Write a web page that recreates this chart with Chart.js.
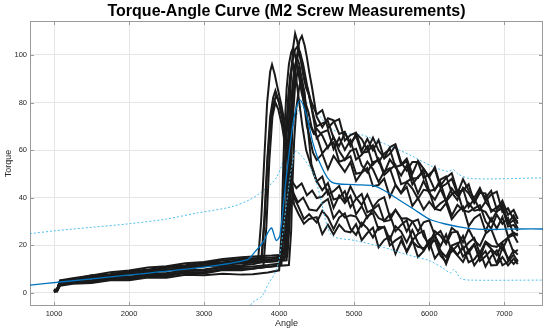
<!DOCTYPE html>
<html lang="en">
<head>
  <meta charset="UTF-8" />
  <title>Torque-Angle Curve</title>
  <script src="https://cdn.jsdelivr.net/npm/chart.js"></script>
  <style>
    html, body { margin: 0; padding: 0; background: #fff; }
    canvas { display: block; }
  </style>
</head>
<body>
  <canvas id="chartTorque" width="550" height="333"></canvas>

  <script>
    // axis ticks
    const X_TICKS = [1000, 2000, 3000, 4000, 5000, 6000, 7000];
    const Y_TICKS = [0, 20, 40, 60, 80, 100];

    // measured curves: E1-E4 peak early, M1-M9 peak later
    const CURVE_NAMES = ['E1', 'E2', 'E3', 'E4', 'M1', 'M2', 'M3', 'M4', 'M5', 'M6', 'M7', 'M8', 'M9'];

    // slow run-in before the torque rise
    const LOW_X = [1000, 1040, 1080, 1250, 1500, 1750, 2000, 2250, 2500, 2750, 3000, 3250, 3500];
    const LOW_Y = [
      [0.5, 1.0, 4.2, 4.8, 6.3, 7.0, 7.9, 8.7, 9.6, 10.4, 11.3, 12.1, 12.8],
      [1.0, 0.6, 3.6, 4.6, 5.0, 6.5, 6.7, 7.8, 8.3, 9.3, 9.8, 10.9, 11.5],
      [0.8, 1.4, 4.8, 5.3, 7.0, 7.1, 8.8, 8.9, 10.5, 10.6, 12.3, 12.2, 13.8],
      [0.3, 0.9, 3.1, 4.1, 4.4, 5.5, 5.7, 7.1, 6.9, 8.3, 8.1, 9.5, 9.4],
      [0.6, 1.2, 5.2, 6.1, 7.2, 8.6, 9.3, 10.6, 11.1, 12.4, 12.9, 14.2, 14.9],
      [1.2, 0.8, 4.0, 4.4, 6.1, 6.6, 7.7, 8.3, 9.4, 10.0, 11.2, 11.6, 12.4],
      [0.4, 1.1, 3.4, 4.3, 4.6, 5.9, 6.1, 7.3, 7.4, 8.5, 8.7, 9.8, 10.1],
      [0.9, 1.5, 4.6, 5.2, 6.8, 7.5, 8.7, 9.4, 10.5, 11.1, 12.3, 12.8, 13.6],
      [0.7, 0.5, 2.9, 3.8, 4.1, 5.2, 5.2, 6.4, 6.3, 7.5, 7.3, 8.0, 7.6],
      [1.1, 1.3, 4.4, 4.8, 6.5, 6.4, 8.2, 8.0, 9.8, 9.6, 11.4, 11.3, 12.9],
      [0.5, 0.7, 3.8, 4.5, 5.2, 6.3, 6.4, 8.0, 7.9, 9.5, 9.3, 10.9, 10.8],
      [1.4, 1.0, 5.0, 5.5, 7.3, 7.8, 9.1, 9.7, 10.9, 11.5, 12.7, 13.5, 14.3],
      [0.2, 0.8, 3.3, 4.2, 4.8, 5.7, 6.0, 7.4, 7.2, 8.7, 8.5, 10.2, 10.0]
    ];

    // rise and peak, own angles per curve
    const RISE_X = [
      [3650, 3720, 3760, 3800, 3840, 3880, 3905, 3940, 3980, 4030, 4080, 4130, 4170, 4230, 4300, 4370, 4440],
      [3650, 3760, 3800, 3840, 3880, 3920, 3950, 3990, 4040, 4090, 4140, 4190, 4250, 4320, 4400],
      [3650, 3770, 3810, 3850, 3890, 3930, 3960, 4000, 4050, 4100, 4150, 4200, 4260, 4330, 4400],
      [3650, 3790, 3830, 3870, 3910, 3950, 3990, 4040, 4090, 4150, 4200, 4260, 4330, 4400],
      [3650, 3900, 4060, 4090, 4110, 4130, 4160, 4190, 4213, 4240, 4270, 4300, 4340, 4380, 4420, 4460],
      [3650, 3900, 4100, 4130, 4150, 4170, 4200, 4240, 4270, 4303, 4340, 4370, 4400, 4440, 4470],
      [3650, 3900, 4030, 4060, 4080, 4100, 4130, 4170, 4210, 4253, 4290, 4320, 4360, 4400, 4440, 4470],
      [3650, 3900, 4090, 4120, 4140, 4160, 4190, 4220, 4250, 4280, 4320, 4350, 4390, 4430, 4465],
      [3650, 3850, 4000, 4030, 4050, 4070, 4100, 4130, 4160, 4187, 4220, 4260, 4300, 4340, 4380, 4420, 4460],
      [3650, 3900, 4070, 4100, 4120, 4140, 4170, 4200, 4236, 4270, 4310, 4350, 4390, 4430, 4465],
      [3650, 3850, 4020, 4050, 4070, 4090, 4120, 4150, 4187, 4220, 4260, 4310, 4360, 4420, 4460],
      [3650, 3900, 4110, 4140, 4160, 4180, 4210, 4253, 4290, 4330, 4370, 4410, 4450],
      [3650, 3900, 4130, 4160, 4180, 4200, 4230, 4270, 4300, 4340, 4380, 4430]
    ];
    const RISE_Y = [
      [13.2, 14, 30, 55, 80, 93, 96, 92, 86, 79, 70, 58, 47, 44, 46, 41, 43],
      [12.0, 12.8, 30, 55, 74, 82, 85, 81, 74, 63, 52, 42, 38, 40, 35],
      [14.0, 14.6, 32, 58, 73, 80, 83, 80, 72, 60, 48, 40, 36, 31, 33],
      [10.1, 10.8, 28, 56, 74, 80, 77, 70, 60, 47, 37, 33, 29, 31],
      [15.2, 15.6, 16.0, 30, 52, 72, 92, 104, 109, 106, 100, 96, 89, 86, 81, 78],
      [12.6, 13.0, 13.6, 28, 50, 70, 88, 100, 106, 108, 104, 99, 93, 86, 80],
      [10.3, 11.0, 11.8, 26, 48, 66, 84, 96, 102, 104, 99, 92, 86, 83, 77, 73],
      [13.8, 14.2, 14.8, 30, 52, 70, 86, 95, 100, 101, 96, 91, 84, 78, 72],
      [7.8, 8.5, 9.4, 24, 48, 68, 86, 96, 101, 103, 99, 92, 84, 79, 72, 70, 67],
      [13.1, 13.5, 14.0, 28, 50, 68, 84, 94, 99, 96, 88, 80, 76, 70, 67],
      [11.0, 11.6, 12.3, 26, 48, 66, 82, 92, 96, 92, 82, 70, 60, 54, 50],
      [14.5, 14.8, 15.3, 30, 54, 72, 86, 94.6, 90, 80, 70, 65, 59],
      [10.2, 11.0, 11.6, 26, 48, 64, 78, 87, 90, 84, 70, 54]
    ];

    // jagged decay after the peak
    const TAIL_X = [4500, 4575, 4650, 4725, 4800, 4875, 4950, 5025, 5100, 5175, 5250, 5325, 5400, 5475,
      5550, 5625, 5700, 5775, 5850, 5925, 6000, 6075, 6150, 6225, 6300, 6375, 6450, 6525, 6600, 6675,
      6750, 6825, 6900, 6975, 7050, 7125, 7180];
    const TAIL_Y = [
      [39.8, 40.4, 43.3, 35.7, 40.9, 37.7, 40.7, 33, 36.4, 31.5, 34.9, 31.4, 30.3, 32.9, 25.8, 28.5, 30.5, 22, 24.8,
        26, 18.3, 23.9, 19.6, 24.5, 17.3, 19.9, 23.9, 16.8, 20.2, 14.6, 21, 18.5, 15.8, 20.8, 13.7, 17.8, 16],
      [34.5, 37.7, 39.4, 31.3, 34.5, 31.6, 32.6, 32, 28, 32.3, 33.5, 26.5, 27.8, 22.3, 28, 25.7, 21.1, 26.3, 21,
        17.8, 22.3, 24.1, 17.6, 15, 19.8, 20.9, 15.2, 17.8, 20.5, 13.3, 15.3, 18, 12.3, 18.8, 14.7, 12.1, 14],
      [29.5, 34.4, 31.6, 26.7, 31.6, 33.4, 26.9, 24.3, 29.4, 27.1, 23.2, 27.6, 27.5, 19.9, 22, 23.6, 17, 21.5, 19.3,
        18.7, 20.3, 22.1, 15.6, 13, 19.3, 15.9, 19.2, 12.8, 14, 17.3, 11, 15.2, 17.8, 11.5, 13, 16, 13],
      [31.8, 24.6, 28.6, 24.5, 28.6, 25.9, 25.4, 28.8, 22.1, 25.1, 27.4, 19.1, 22.2, 23.7, 16.3, 21.8, 17.5, 22.3, 15,
        17.5, 21.5, 14.4, 17.6, 12, 18.3, 15.7, 12.9, 17.8, 11.5, 14.8, 17.5, 11.5, 11.6, 15, 11.5, 14.3, 12],
      [75, 76.8, 69.3, 71.9, 73, 64, 66.3, 67.3, 59.7, 64.7, 59.9, 64.2, 56.4, 58.4, 61.8, 53.9, 56.4, 50, 55.5,
        52.1, 48.6, 52.9, 45, 48.4, 50.3, 42.6, 43, 45.6, 38, 43.1, 39.9, 42.8, 35.1, 38.7, 32.8, 34.8, 31],
      [74, 69.6, 73.4, 72.5, 66.8, 67.7, 61.7, 67, 64.6, 60.1, 65.2, 59.9, 56.7, 61.2, 62.5, 55, 51.3, 55, 55,
        48.3, 49.8, 51.9, 44.3, 45.7, 47.9, 41.7, 47.7, 43, 39.8, 44, 38.5, 41.3, 42.5, 34, 35.5, 30.8, 30],
      [70, 71.2, 72.2, 65.1, 61.7, 67.3, 63.1, 65.8, 58.8, 59.3, 62, 55, 58.5, 60.5, 52.8, 53.7, 55.3, 48, 48.2,
        52.1, 48.5, 43.1, 47.6, 48.9, 42.1, 39, 44.2, 41.8, 37.8, 42, 41.8, 34, 36, 37.3, 29.3, 32.5, 29],
      [65, 67.5, 68.4, 60.4, 65.2, 60.1, 64.1, 56, 58, 61.5, 53.8, 56.5, 50.3, 56, 52.8, 49.3, 53.5, 45.5, 48.8,
        50.7, 42.8, 43.4, 46.3, 38.7, 43.9, 40.7, 43.7, 36, 39.5, 34.8, 38.3, 35, 34, 36.8, 28.8, 30.5, 27],
      [69, 66.1, 60.9, 65.5, 59.6, 55.9, 59.7, 60.5, 53.6, 50.6, 54.9, 55.6, 49.5, 51.7, 53.8, 45.7, 46.6, 48.3, 41.7,
        47, 42, 39.1, 43.6, 38.4, 41.4, 42.9, 34.7, 37.8, 34.5, 35, 34, 30, 34.3, 35.5, 27.8, 28.5, 26],
      [66, 58.6, 61.6, 63.2, 55.1, 55.9, 57.4, 50, 50.6, 55.1, 51.9, 46.6, 51, 52.4, 45.5, 42, 46.6, 43.8, 39.5,
        43.3, 42.8, 35.3, 37.6, 39.2, 32.4, 36.9, 34.7, 34, 35.5, 36.8, 30, 27, 32.8, 29, 31.5, 24.1, 25],
      [46.8, 48.9, 41.3, 42.7, 44.9, 38.7, 44.7, 40, 36.9, 41.3, 35.9, 38.9, 40.2, 31.9, 34.8, 31.2, 31.3, 30, 25.7,
        29.6, 30.5, 24.1, 25.9, 21, 27.3, 25.4, 21.2, 26.8, 22.1, 19.7, 24.8, 26.8, 20.7, 18.3, 23.2, 24.3, 21],
      [55.8, 58.4, 52, 57.6, 54.2, 50.8, 54.9, 47, 50.5, 52.5, 44.8, 45.3, 48, 40.3, 45.3, 41.8, 44.5, 36.5, 39.8,
        35, 38.3, 35.3, 34.6, 37.7, 30.9, 33.9, 36.2, 28, 31.3, 33, 25.8, 31.3, 27, 31.8, 23.7, 25.3, 24],
      [47, 43.1, 46.1, 39.2, 39.9, 42.7, 35.9, 39.5, 41.5, 33.8, 35, 37, 30, 30.5, 34.8, 31.3, 25.7, 29.8, 30.8,
        23.7, 20.3, 25.9, 23.9, 20.5, 25.3, 25.7, 18.4, 21, 23, 16.6, 21.5, 19.7, 19.3, 21.3, 23.2, 16.8, 18]
    ];

    // mean curve and its bounds
    const MEAN_X = [680, 1120, 2013, 2900, 3570, 3680, 3790, 3857, 3900, 3960, 4010, 4100, 4200, 4280, 4370,
      4450, 4550, 4700, 5000, 5250, 5400, 5600, 5800, 6000, 6200, 6500, 6800, 7200, 7516];
    const MEAN_Y = [3.2, 4.6, 7.5, 10.4, 13.8, 17.3, 21.5, 25.7, 27.2, 22, 24, 50, 74, 81, 74,
      63, 54, 46.5, 45.5, 45, 43, 39, 35, 31, 29, 27.2, 26.6, 26.8, 26.8];

    const UPPER_X = [680, 1000, 1500, 2000, 2500, 2900, 3350, 3600, 3750, 3900, 3975, 4060, 4150, 4250, 4350,
      4450, 4550, 4650, 4750, 4850, 5100, 5300, 5600, 5800, 6050, 6250, 6320, 6380, 6550, 7516];
    const UPPER_Y = [24.8, 26, 27.5, 29, 31, 33.5, 36, 39, 42, 46, 49, 56, 66, 76, 80,
      78, 74, 70, 68, 67, 66.4, 64, 60, 57, 53, 51, 51.8, 50, 48, 48.3];

    const LOWER_X = [3560, 3650, 3770, 3860, 3940, 4000, 4100, 4213, 4303, 4453, 4550, 4640, 4720,
      5000, 5400, 5700, 6000, 6200, 6280, 6330, 6420, 6550, 7516];
    const LOWER_Y = [-8, -4, -1.5, 4, 8, 14, 38, 59.4, 57.3, 50.4, 40, 28, 23.6,
      22, 19, 16, 13.5, 10, 8.3, 9.8, 6, 5.3, 5.3];

    const FONT = "'Liberation Sans', Arial, Helvetica, sans-serif";
    const AXIS_COLOR = '#9a9a9a';
    const TEXT_COLOR = '#262626';
    const TITLE = 'Torque-Angle Curve (M2 Screw Measurements)';

    const zip = (xs, ys) => xs.map((x, i) => ({ x: x, y: ys[i] }));

    const curveSets = CURVE_NAMES.map((name, i) => ({
      label: name,
      data: zip(LOW_X, LOW_Y[i]).concat(zip(RISE_X[i], RISE_Y[i]), zip(TAIL_X, TAIL_Y[i])),
      borderColor: '#1a1a1a',
      borderWidth: 2,
      pointRadius: 0,
      tension: 0,
      order: 1
    }));

    // box round the plot with inward ticks, title centred over the plot area
    const boxPlugin = {
      id: 'box',
      beforeDatasetsDraw(chart) {
        const { ctx, chartArea: a, scales } = chart;
        ctx.save();
        ctx.strokeStyle = AXIS_COLOR;
        ctx.lineWidth = 1;
        ctx.strokeRect(a.left + 0.5, a.top + 0.5, a.right - a.left - 1, a.bottom - a.top - 1);
        ctx.beginPath();
        X_TICKS.forEach(v => {
          const x = Math.round(scales.x.getPixelForValue(v)) + 0.5;
          ctx.moveTo(x, a.bottom); ctx.lineTo(x, a.bottom - 4);
          ctx.moveTo(x, a.top); ctx.lineTo(x, a.top + 4);
        });
        Y_TICKS.forEach(v => {
          const y = Math.round(scales.y.getPixelForValue(v)) + 0.5;
          ctx.moveTo(a.left, y); ctx.lineTo(a.left + 4, y);
          ctx.moveTo(a.right, y); ctx.lineTo(a.right - 4, y);
        });
        ctx.stroke();
        ctx.restore();
      },
      afterDraw(chart) {
        const { ctx, chartArea: a } = chart;
        ctx.save();
        ctx.fillStyle = '#000';
        ctx.font = 'bold 16px ' + FONT;
        ctx.textAlign = 'center';
        ctx.textBaseline = 'middle';
        ctx.fillText(TITLE, (a.left + a.right) / 2, 12);
        ctx.restore();
      }
    };

    new Chart(document.getElementById('chartTorque'), {
      type: 'line',
      data: {
        datasets: [
          {
            label: 'Mean',
            data: zip(MEAN_X, MEAN_Y),
            borderColor: '#0072BD',
            borderWidth: 1.3,
            pointRadius: 0,
            tension: 0.3,
            order: 0
          },
          {
            label: 'Lower',
            data: zip(LOWER_X, LOWER_Y),
            borderColor: '#4DBEEE',
            borderWidth: 1,
            borderDash: [2, 2],
            pointRadius: 0,
            tension: 0.3,
            order: 0
          },
          ...curveSets,
          {
            label: 'Upper',
            data: zip(UPPER_X, UPPER_Y),
            borderColor: '#4DBEEE',
            borderWidth: 1,
            borderDash: [2, 2],
            pointRadius: 0,
            tension: 0.3,
            order: 2
          }
        ]
      },
      options: {
        responsive: false,
        animation: false,
        layout: { padding: { left: 0, right: 7, top: 21, bottom: 0 } },
        plugins: {
          legend: { display: false },
          tooltip: { enabled: false },
          title: { display: false }
        },
        scales: {
          x: {
            type: 'linear',
            min: 680,
            max: 7516,
            grid: { color: '#e6e6e6', drawTicks: false },
            border: { display: false },
            ticks: {
              color: TEXT_COLOR,
              font: { family: FONT, size: 7.5 },
              padding: 3,
              maxRotation: 0,
              callback: v => String(v)
            },
            afterBuildTicks: s => { s.ticks = X_TICKS.map(v => ({ value: v })); },
            afterFit: s => { s.height = 27; },
            title: {
              display: true,
              text: 'Angle',
              color: TEXT_COLOR,
              font: { family: FONT, size: 9 },
              padding: { top: 0, bottom: 4.5 }
            }
          },
          y: {
            type: 'linear',
            min: -5.6,
            max: 114.3,
            grid: { color: '#e6e6e6', drawTicks: false },
            border: { display: false },
            ticks: {
              color: TEXT_COLOR,
              font: { family: FONT, size: 7.5 },
              padding: 3,
              callback: v => String(v)
            },
            afterBuildTicks: s => { s.ticks = Y_TICKS.map(v => ({ value: v })); },
            afterFit: s => { s.width = 30; },
            title: {
              display: true,
              text: 'Torque',
              color: TEXT_COLOR,
              font: { family: FONT, size: 9 },
              padding: { top: 3, bottom: 0 }
            }
          }
        }
      },
      plugins: [boxPlugin]
    });
  </script>
</body>
</html>
